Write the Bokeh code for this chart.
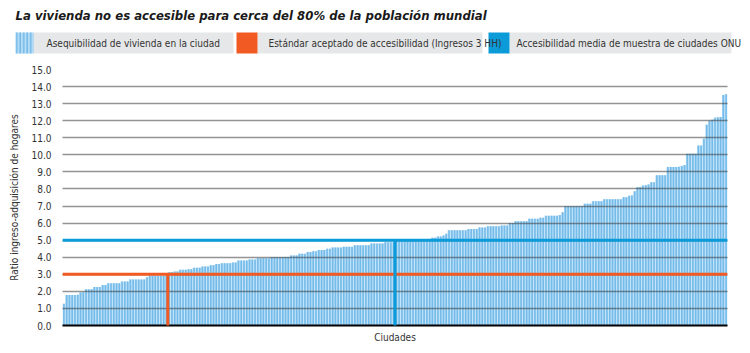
from bokeh.plotting import figure
from bokeh.models import (Range1d, FixedTicker, NumeralTickFormatter, Span, Label,
                          ColumnDataSource)
from bokeh.layouts import column
from bokeh.embed import file_html
from bokeh.resources import INLINE

# ---------------- data ----------------
title_text = "La vivienda no es accesible para cerca del 80% de la población mundial"
legend_labels = ["Asequibilidad de vivienda en la ciudad",
                 "Estándar aceptado de accesibilidad (Ingresos 3 HH)",
                 "Accesibilidad media de muestra de ciudades ONU"]
x_label = "Ciudades"
y_label = "Ratio ingreso-adquisición de hogares"
y_ticks = list(range(0, 16))

standard_ratio = 3.0   # Estándar aceptado (3 veces ingreso)
mean_ratio = 5.0       # media de la muestra ONU

ratios = [
    1.27, 1.78, 1.78, 1.78, 1.78, 1.80, 1.93, 1.95, 2.13, 2.13,
    2.13, 2.25, 2.25, 2.25, 2.38, 2.38, 2.48, 2.48, 2.48, 2.48,
    2.48, 2.58, 2.58, 2.58, 2.69, 2.69, 2.69, 2.69, 2.69, 2.69,
    2.83, 2.91, 2.91, 2.91, 2.91, 2.91, 2.91, 2.91, 3.12, 3.14,
    3.16, 3.16, 3.26, 3.26, 3.26, 3.30, 3.30, 3.38, 3.38, 3.38,
    3.46, 3.46, 3.46, 3.53, 3.53, 3.61, 3.61, 3.65, 3.65, 3.65,
    3.65, 3.69, 3.69, 3.81, 3.81, 3.81, 3.81, 3.87, 3.87, 3.87,
    3.94, 3.94, 3.94, 3.94, 3.94, 4.00, 4.00, 4.00, 4.00, 4.00,
    4.02, 4.02, 4.10, 4.10, 4.10, 4.20, 4.20, 4.20, 4.30, 4.30,
    4.35, 4.35, 4.43, 4.43, 4.43, 4.49, 4.49, 4.57, 4.57, 4.57,
    4.57, 4.62, 4.62, 4.62, 4.62, 4.70, 4.70, 4.70, 4.70, 4.70,
    4.70, 4.80, 4.80, 4.80, 4.80, 4.80, 4.88, 4.88, 4.88, 4.88,
    5.00, 5.00, 5.00, 5.00, 5.00, 5.00, 5.00, 5.04, 5.04, 5.04,
    5.04, 5.04, 5.04, 5.14, 5.14, 5.21, 5.21, 5.27, 5.37, 5.58,
    5.58, 5.58, 5.58, 5.58, 5.58, 5.58, 5.66, 5.66, 5.66, 5.66,
    5.74, 5.74, 5.74, 5.82, 5.82, 5.82, 5.82, 5.82, 5.86, 5.86,
    5.86, 6.00, 6.00, 6.11, 6.11, 6.11, 6.11, 6.11, 6.25, 6.25,
    6.25, 6.25, 6.31, 6.31, 6.43, 6.43, 6.43, 6.43, 6.43, 6.48,
    6.64, 6.99, 6.99, 6.99, 6.99, 6.99, 6.99, 6.99, 7.13, 7.13,
    7.13, 7.28, 7.28, 7.28, 7.28, 7.40, 7.40, 7.40, 7.40, 7.40,
    7.40, 7.40, 7.52, 7.52, 7.60, 7.62, 7.87, 8.10, 8.12, 8.20,
    8.22, 8.26, 8.40, 8.40, 8.80, 8.80, 8.80, 8.80, 9.28, 9.28,
    9.28, 9.28, 9.30, 9.35, 9.41, 10.06, 10.06, 10.06, 10.06, 10.55,
    10.55, 10.94, 11.76, 12.00, 12.05, 12.18, 12.20, 12.22, 13.50, 13.55,
]

# ---------------- styles ----------------
FONT = "DejaVu Sans Condensed"
TXT = "#333333"
ORANGE = "#f15a22"
BLUE = "#0b9bd9"
BAR_LIGHT = "#b3dbf5"
BAR_DARK = "#74bbe9"
BAND = "#e6e7e8"

n = len(ratios)
centers = [i + 0.5 for i in range(n)]
n_below_std = sum(1 for r in ratios if r < standard_ratio)
n_below_mean = sum(1 for r in ratios if r < mean_ratio)

# ---------------- header (title + legend) ----------------
h = figure(width=750, height=60, x_range=Range1d(0, 750), y_range=Range1d(60, 0),
           output_backend="svg", toolbar_location=None, min_border=0)
h.frame_align = False
h.axis.visible = False
h.grid.visible = False
h.outline_line_color = None

h.add_layout(Label(x=15, y=15, text=title_text, text_font=FONT, text_font_size="13px",
                   text_font_style="bold italic", text_color="#1a1a1a",
                   text_baseline="middle"))

# legend band pieces (label backgrounds)
h.quad(left=[33, 257, 509], right=[233, 482, 731], top=[32, 32, 32], bottom=[53, 53, 53],
       fill_color=BAND, line_color=None)
# swatches
h.quad(left=[15], right=[33], top=[32], bottom=[53], fill_color=BAR_LIGHT, line_color=None,
       hatch_pattern="vertical_line", hatch_color=BAR_DARK, hatch_scale=3.5, hatch_weight=1.5)
h.quad(left=[236, 488], right=[257, 509], top=[32, 32], bottom=[53, 53],
       fill_color=[ORANGE, BLUE], line_color=None)
for xx, lab in zip([46, 268, 516], legend_labels):
    h.add_layout(Label(x=xx, y=43, text=lab, text_font=FONT, text_font_size="10px",
                       text_color=TXT, text_baseline="middle"))

# ---------------- main chart ----------------
p = figure(width=750, height=293, x_range=Range1d(0, n), y_range=Range1d(0, 15),
           output_backend="svg", toolbar_location=None,
           min_border_left=62, min_border_right=23, min_border_top=9, min_border_bottom=28)
p.frame_align = False
p.outline_line_color = None

src = ColumnDataSource(dict(x=centers, top=ratios))
p.vbar(x="x", top="top", width=1.0, bottom=0, source=src, fill_color=BAR_LIGHT, line_color=None)
p.vbar(x="x", top="top", width=0.55, bottom=0, source=src, fill_color=BAR_DARK, line_color=None)

p.xgrid.visible = False
p.ygrid.ticker = FixedTicker(ticks=y_ticks[1:])
p.ygrid.grid_line_color = "#3a3a3a"
p.ygrid.grid_line_alpha = 0.55
p.ygrid.grid_line_width = 1.5
p.ygrid.level = "guide"

p.add_layout(Span(location=standard_ratio, dimension="width", line_color=ORANGE, line_width=3))
p.add_layout(Span(location=mean_ratio, dimension="width", line_color=BLUE, line_width=3))
r1 = p.segment(x0=[n_below_std], y0=[0], x1=[n_below_std], y1=[standard_ratio],
               line_color=ORANGE, line_width=3)
r2 = p.segment(x0=[n_below_mean], y0=[0], x1=[n_below_mean], y1=[mean_ratio],
               line_color=BLUE, line_width=3)
r1.level = "overlay"
r2.level = "overlay"

xa = p.xaxis[0]
xa.ticker = FixedTicker(ticks=[])
xa.axis_line_color = "black"
xa.axis_line_width = 2
xa.major_tick_line_color = None
xa.minor_tick_line_color = None
xa.major_tick_out = 0
xa.major_tick_in = 0
xa.axis_label = x_label
xa.axis_label_standoff = 6
xa.axis_label_text_font = FONT
xa.axis_label_text_font_size = "10px"
xa.axis_label_text_font_style = "normal"
xa.axis_label_text_color = TXT

ya = p.yaxis[0]
ya.ticker = FixedTicker(ticks=y_ticks)
ya.formatter = NumeralTickFormatter(format="0.0")
ya.axis_line_color = None
ya.major_tick_line_color = None
ya.minor_tick_line_color = None
ya.major_tick_out = 0
ya.major_tick_in = 0
ya.major_label_standoff = 11
ya.major_label_text_font = FONT
ya.major_label_text_font_size = "10px"
ya.major_label_text_color = TXT
ya.axis_label = y_label
ya.axis_label_standoff = 8
ya.axis_label_text_font = FONT
ya.axis_label_text_font_size = "10px"
ya.axis_label_text_font_style = "normal"
ya.axis_label_text_color = TXT

layout = column(h, p, spacing=0)
open("out.html", "w").write(file_html(layout, INLINE))
